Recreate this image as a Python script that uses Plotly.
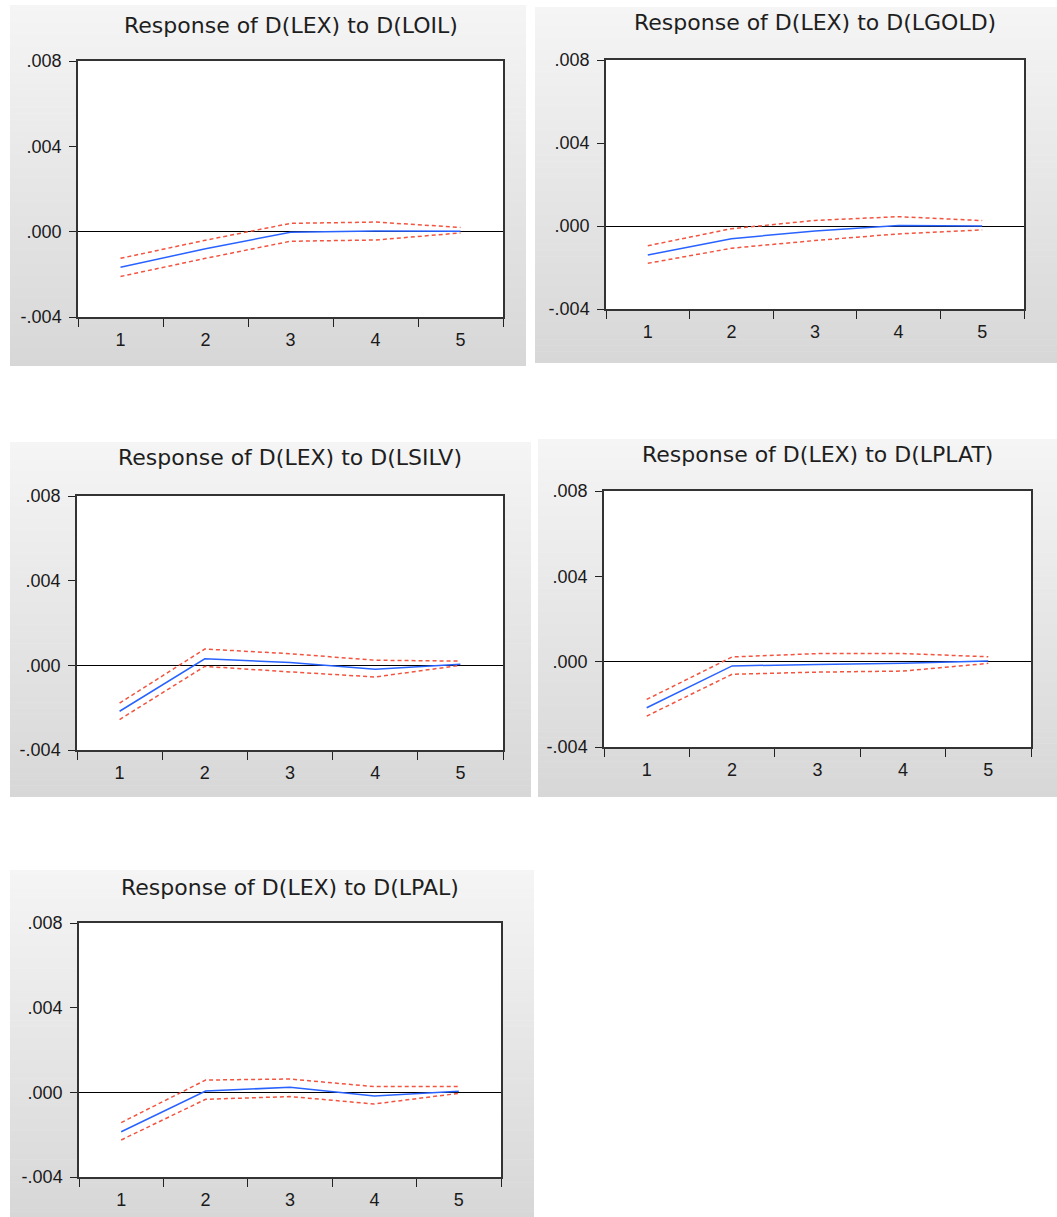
import plotly.graph_objects as go

W, H = 1057, 1217

periods = ["1", "2", "3", "4", "5"]
y_tickvals = [-0.004, 0.0, 0.004, 0.008]
y_ticktext = ["-.004", ".000", ".004", ".008"]

titles = [
    "Response of D(LEX) to D(LOIL)",
    "Response of D(LEX) to D(LGOLD)",
    "Response of D(LEX) to D(LSILV)",
    "Response of D(LEX) to D(LPLAT)",
    "Response of D(LEX) to D(LPAL)",
]

oil_resp = [-0.00167, -0.00080, -0.00003, 0.00003, 0.00002]
oil_upper = [-0.00125, -0.00040, 0.00039, 0.00045, 0.00020]
oil_lower = [-0.00210, -0.00125, -0.00045, -0.00039, -0.00006]

gold_resp = [-0.00140, -0.00061, -0.00024, 0.00002, 0.00000]
gold_upper = [-0.00095, -0.00013, 0.00027, 0.00045, 0.00026]
gold_lower = [-0.00180, -0.00107, -0.00070, -0.00038, -0.00019]

silv_resp = [-0.00217, 0.00031, 0.00013, -0.00019, 0.00005]
silv_upper = [-0.00178, 0.00077, 0.00055, 0.00024, 0.00020]
silv_lower = [-0.00256, -0.00005, -0.00031, -0.00055, 0.00000]

plat_resp = [-0.00216, -0.00020, -0.00013, -0.00008, 0.00003]
plat_upper = [-0.00177, 0.00022, 0.00038, 0.00038, 0.00023]
plat_lower = [-0.00255, -0.00059, -0.00049, -0.00044, -0.00008]

pal_resp = [-0.00186, 0.00006, 0.00024, -0.00017, 0.00005]
pal_upper = [-0.00143, 0.00058, 0.00063, 0.00027, 0.00027]
pal_lower = [-0.00225, -0.00033, -0.00020, -0.00055, -0.00005]

series = [
    (oil_resp, oil_upper, oil_lower),
    (gold_resp, gold_upper, gold_lower),
    (silv_resp, silv_upper, silv_lower),
    (plat_resp, plat_upper, plat_lower),
    (pal_resp, pal_upper, pal_lower),
]

# layout geometry in pixels: gray panel (x0,y0,x1,y1), plot box (L,T,R,B)
panels = [
    ((10, 5, 526, 366), (78, 61, 503, 317)),
    ((535, 7, 1057, 363), (606, 60, 1024, 309)),
    ((10, 442, 531, 797), (77, 496, 503, 750)),
    ((538, 439, 1057, 797), (604, 491, 1031, 747)),
    ((10, 870, 534, 1217), (79, 923, 501, 1177)),
]
title_ys = [25, 23, 458, 454, 887]

BLUE = "#2862ff"
RED = "#f2543f"
TOP = (245, 245, 245)
BOT = (215, 215, 215)

fig = go.Figure()
shapes = []
annotations = []
layout_axes = {}


def px_x(v):
    return v / W


def px_y(v):
    return 1 - v / H


NB = 60
for i, ((gx0, gy0, gx1, gy1), (L, T, R, B)) in enumerate(panels):
    # gradient panel background
    h = (gy1 - gy0) / NB
    for k in range(NB):
        t = (k + 0.5) / NB
        c = tuple(int(round(TOP[j] + (BOT[j] - TOP[j]) * t)) for j in range(3))
        shapes.append(dict(
            type="rect", xref="paper", yref="paper", layer="below",
            x0=px_x(gx0), x1=px_x(gx1),
            y0=px_y(min(gy0 + h * (k + 1) + 0.5, gy1)), y1=px_y(gy0 + h * k),
            fillcolor="rgb(%d,%d,%d)" % c, line=dict(width=0),
        ))
    shapes.append(dict(
        type="rect", xref="paper", yref="paper", layer="below",
        x0=px_x(L), x1=px_x(R), y0=px_y(B), y1=px_y(T),
        fillcolor="white", line=dict(width=0),
    ))

    n = i + 1
    xa = "xaxis" if n == 1 else "xaxis%d" % n
    ya = "yaxis" if n == 1 else "yaxis%d" % n
    xr = "x" if n == 1 else "x%d" % n
    yr = "y" if n == 1 else "y%d" % n

    layout_axes[xa] = dict(
        domain=[px_x(L), px_x(R)], anchor=yr, type="category",
        categoryorder="array", categoryarray=periods,
        range=[-0.5, 4.5], tickson="boundaries", ticks="outside",
        ticklen=8, tickwidth=1.3, tickcolor="#222",
        showline=True, linecolor="#333", linewidth=1.5, mirror=True,
        showgrid=False, zeroline=False, automargin=False,
        tickfont=dict(family="Liberation Sans", size=18, color="#1a1a1a"),
        ticklabelstandoff=6, fixedrange=True,
    )
    layout_axes[ya] = dict(
        domain=[px_y(B), px_y(T)], anchor=xr,
        range=[-0.004, 0.008], tickvals=y_tickvals, ticktext=y_ticktext,
        ticks="outside", ticklen=7, tickwidth=1.3, tickcolor="#222",
        showline=True, linecolor="#333", linewidth=1.5, mirror=True,
        showgrid=False, zeroline=True, zerolinecolor="#000", zerolinewidth=1.2,
        automargin=False,
        tickfont=dict(family="Liberation Sans", size=18, color="#1a1a1a"),
        ticklabelstandoff=4, fixedrange=True,
    )

    resp, upper, lower = series[i]
    fig.add_trace(go.Scatter(
        x=periods, y=upper, mode="lines", xaxis=xr, yaxis=yr,
        line=dict(color=RED, width=1.5, dash="4px,3px"), showlegend=False,
    ))
    fig.add_trace(go.Scatter(
        x=periods, y=lower, mode="lines", xaxis=xr, yaxis=yr,
        line=dict(color=RED, width=1.5, dash="4px,3px"), showlegend=False,
    ))
    fig.add_trace(go.Scatter(
        x=periods, y=resp, mode="lines", xaxis=xr, yaxis=yr,
        line=dict(color=BLUE, width=1.5), showlegend=False,
    ))

    annotations.append(dict(
        text=titles[i], xref="paper", yref="paper",
        x=px_x((L + R) / 2), y=px_y(title_ys[i]), xanchor="center", yanchor="middle",
        showarrow=False,
        font=dict(family="DejaVu Sans", size=22, color="#1e1e1e"),
    ))

fig.update_layout(
    width=W, height=H, autosize=False,
    margin=dict(l=0, r=0, t=0, b=0, pad=0, autoexpand=False),
    paper_bgcolor="white", plot_bgcolor="white",
    shapes=shapes, annotations=annotations, showlegend=False,
    **layout_axes,
)

fig.write_html(
    "out.html",
    config=dict(displayModeBar=False),
    post_script="document.body.style.margin='0';document.body.style.overflow='hidden';",
)
